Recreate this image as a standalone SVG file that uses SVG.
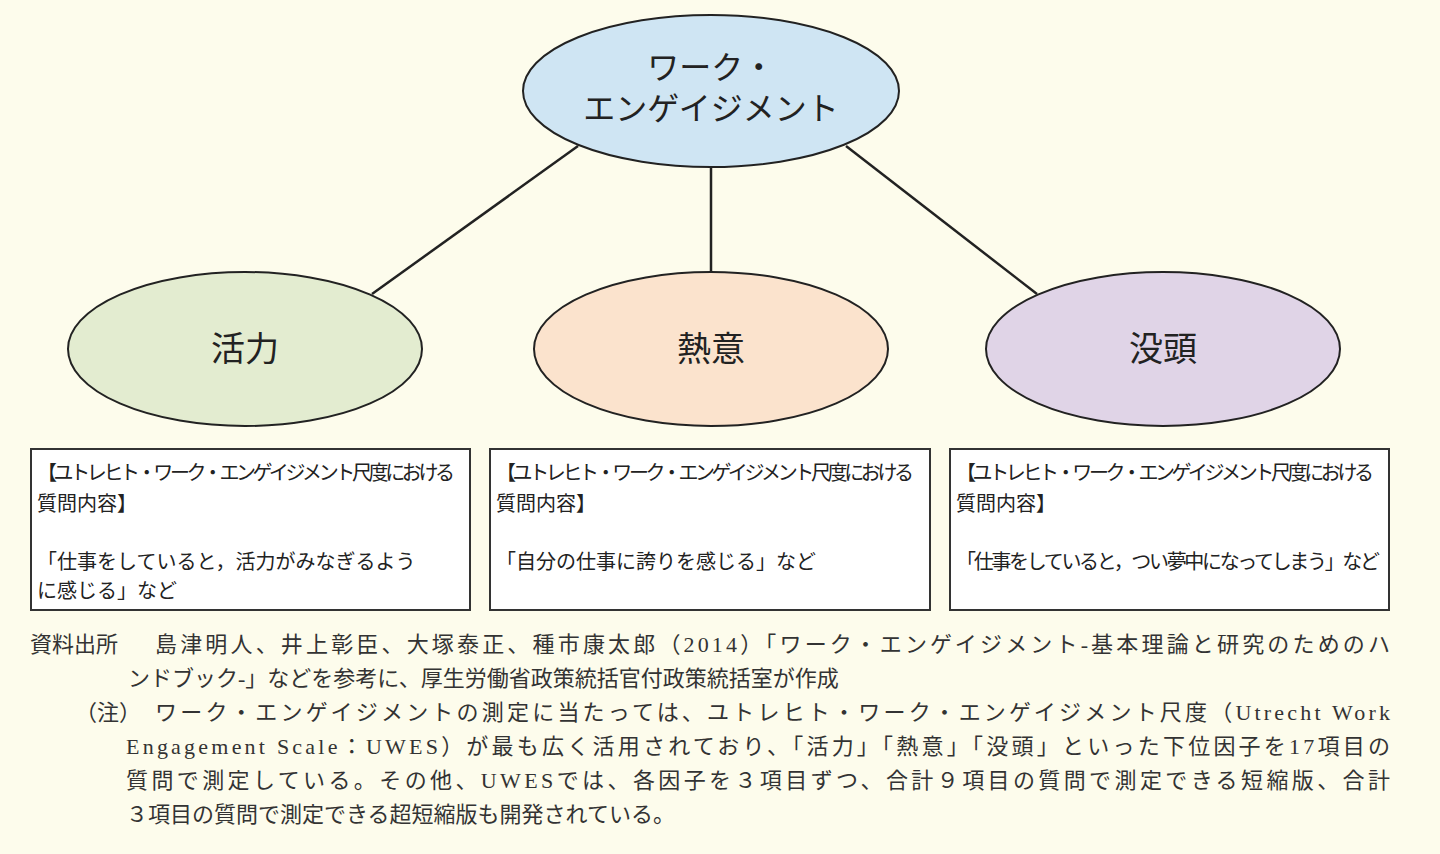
<svg xmlns="http://www.w3.org/2000/svg" width="1440" height="854" viewBox="0 0 1440 854">
<style>
.n{stroke:#222;stroke-width:2}
.t{font-family:"Noto Sans CJK JP","Noto Sans",sans-serif;fill:#222;text-anchor:middle}
.b{font-family:"Noto Sans CJK JP","Noto Sans",sans-serif;fill:#222;font-size:20px}
.box{fill:#fff;stroke:#333;stroke-width:2}
.m{font-family:"Liberation Serif","Noto Sans CJK JP",serif;fill:#333;font-size:22px}
</style>
<rect width="1440" height="854" fill="#fdfcec"/>
<g id="connectors" stroke="#222" stroke-width="2.5">
<line x1="578" y1="146" x2="372" y2="294"/>
<line x1="711" y1="168" x2="711" y2="272"/>
<line x1="846" y1="146" x2="1037" y2="294"/>
</g>
<g id="top"><ellipse class="n" cx="711" cy="91" rx="188" ry="76" fill="#cfe5f3"/>
<text class="t" font-size="32" x="711" y="79">ワーク・</text>
<text class="t" font-size="32" x="711" y="120">エンゲイジメント</text></g>
<g id="katsuryoku"><ellipse class="n" cx="245" cy="349" rx="177" ry="77" fill="#e3ecd0"/><text class="t" font-size="34" x="245" y="361">活力</text></g>
<g id="netsui"><ellipse class="n" cx="711" cy="349" rx="177" ry="77" fill="#fbe3cd"/><text class="t" font-size="34" x="711" y="361">熱意</text></g>
<g id="botto"><ellipse class="n" cx="1163" cy="349" rx="177" ry="77" fill="#e0d4e7"/><text class="t" font-size="34" x="1163" y="361">没頭</text></g>
<g id="box1"><rect class="box" x="31" y="449" width="439" height="161"/>
<text class="b" x="37" y="480" textLength="418">【ユトレヒト・ワーク・エンゲイジメント尺度における</text>
<text class="b" x="37" y="511">質問内容】</text>
<text class="b" x="37" y="569">「仕事をしていると，活力がみなぎるよう</text>
<text class="b" x="37" y="598">に感じる」など</text></g>
<g id="box2"><rect class="box" x="490" y="449" width="440" height="161"/>
<text class="b" x="496" y="480" textLength="418">【ユトレヒト・ワーク・エンゲイジメント尺度における</text>
<text class="b" x="496" y="511">質問内容】</text>
<text class="b" x="496" y="569">「自分の仕事に誇りを感じる」など</text></g>
<g id="box3"><rect class="box" x="950" y="449" width="439" height="161"/>
<text class="b" x="956" y="480" textLength="418">【ユトレヒト・ワーク・エンゲイジメント尺度における</text>
<text class="b" x="956" y="511">質問内容】</text>
<text class="b" x="956" y="569" textLength="424">「仕事をしていると，つい夢中になってしまう」など</text></g>
<g id="notes">
<text class="m" x="30" y="652">資料出所</text>
<text class="m" x="155" y="652" textLength="1235">島津明人、井上彰臣、大塚泰正、種市康太郎（2014）「ワーク・エンゲイジメント-基本理論と研究のためのハ</text>
<text class="m" x="128" y="686">ンドブック-」などを参考に、厚生労働省政策統括官付政策統括室が作成</text>
<text class="m" x="75" y="720">（注）</text>
<text class="m" x="155" y="720" textLength="1235">ワーク・エンゲイジメントの測定に当たっては、ユトレヒト・ワーク・エンゲイジメント尺度（Utrecht Work</text>
<text class="m" x="126" y="754" textLength="1264">Engagement Scale：UWES）が最も広く活用されており、「活力」「熱意」「没頭」といった下位因子を17項目の</text>
<text class="m" x="126" y="788" textLength="1264">質問で測定している。その他、UWESでは、各因子を３項目ずつ、合計９項目の質問で測定できる短縮版、合計</text>
<text class="m" x="126" y="822">３項目の質問で測定できる超短縮版も開発されている。</text>
</g>
</svg>
